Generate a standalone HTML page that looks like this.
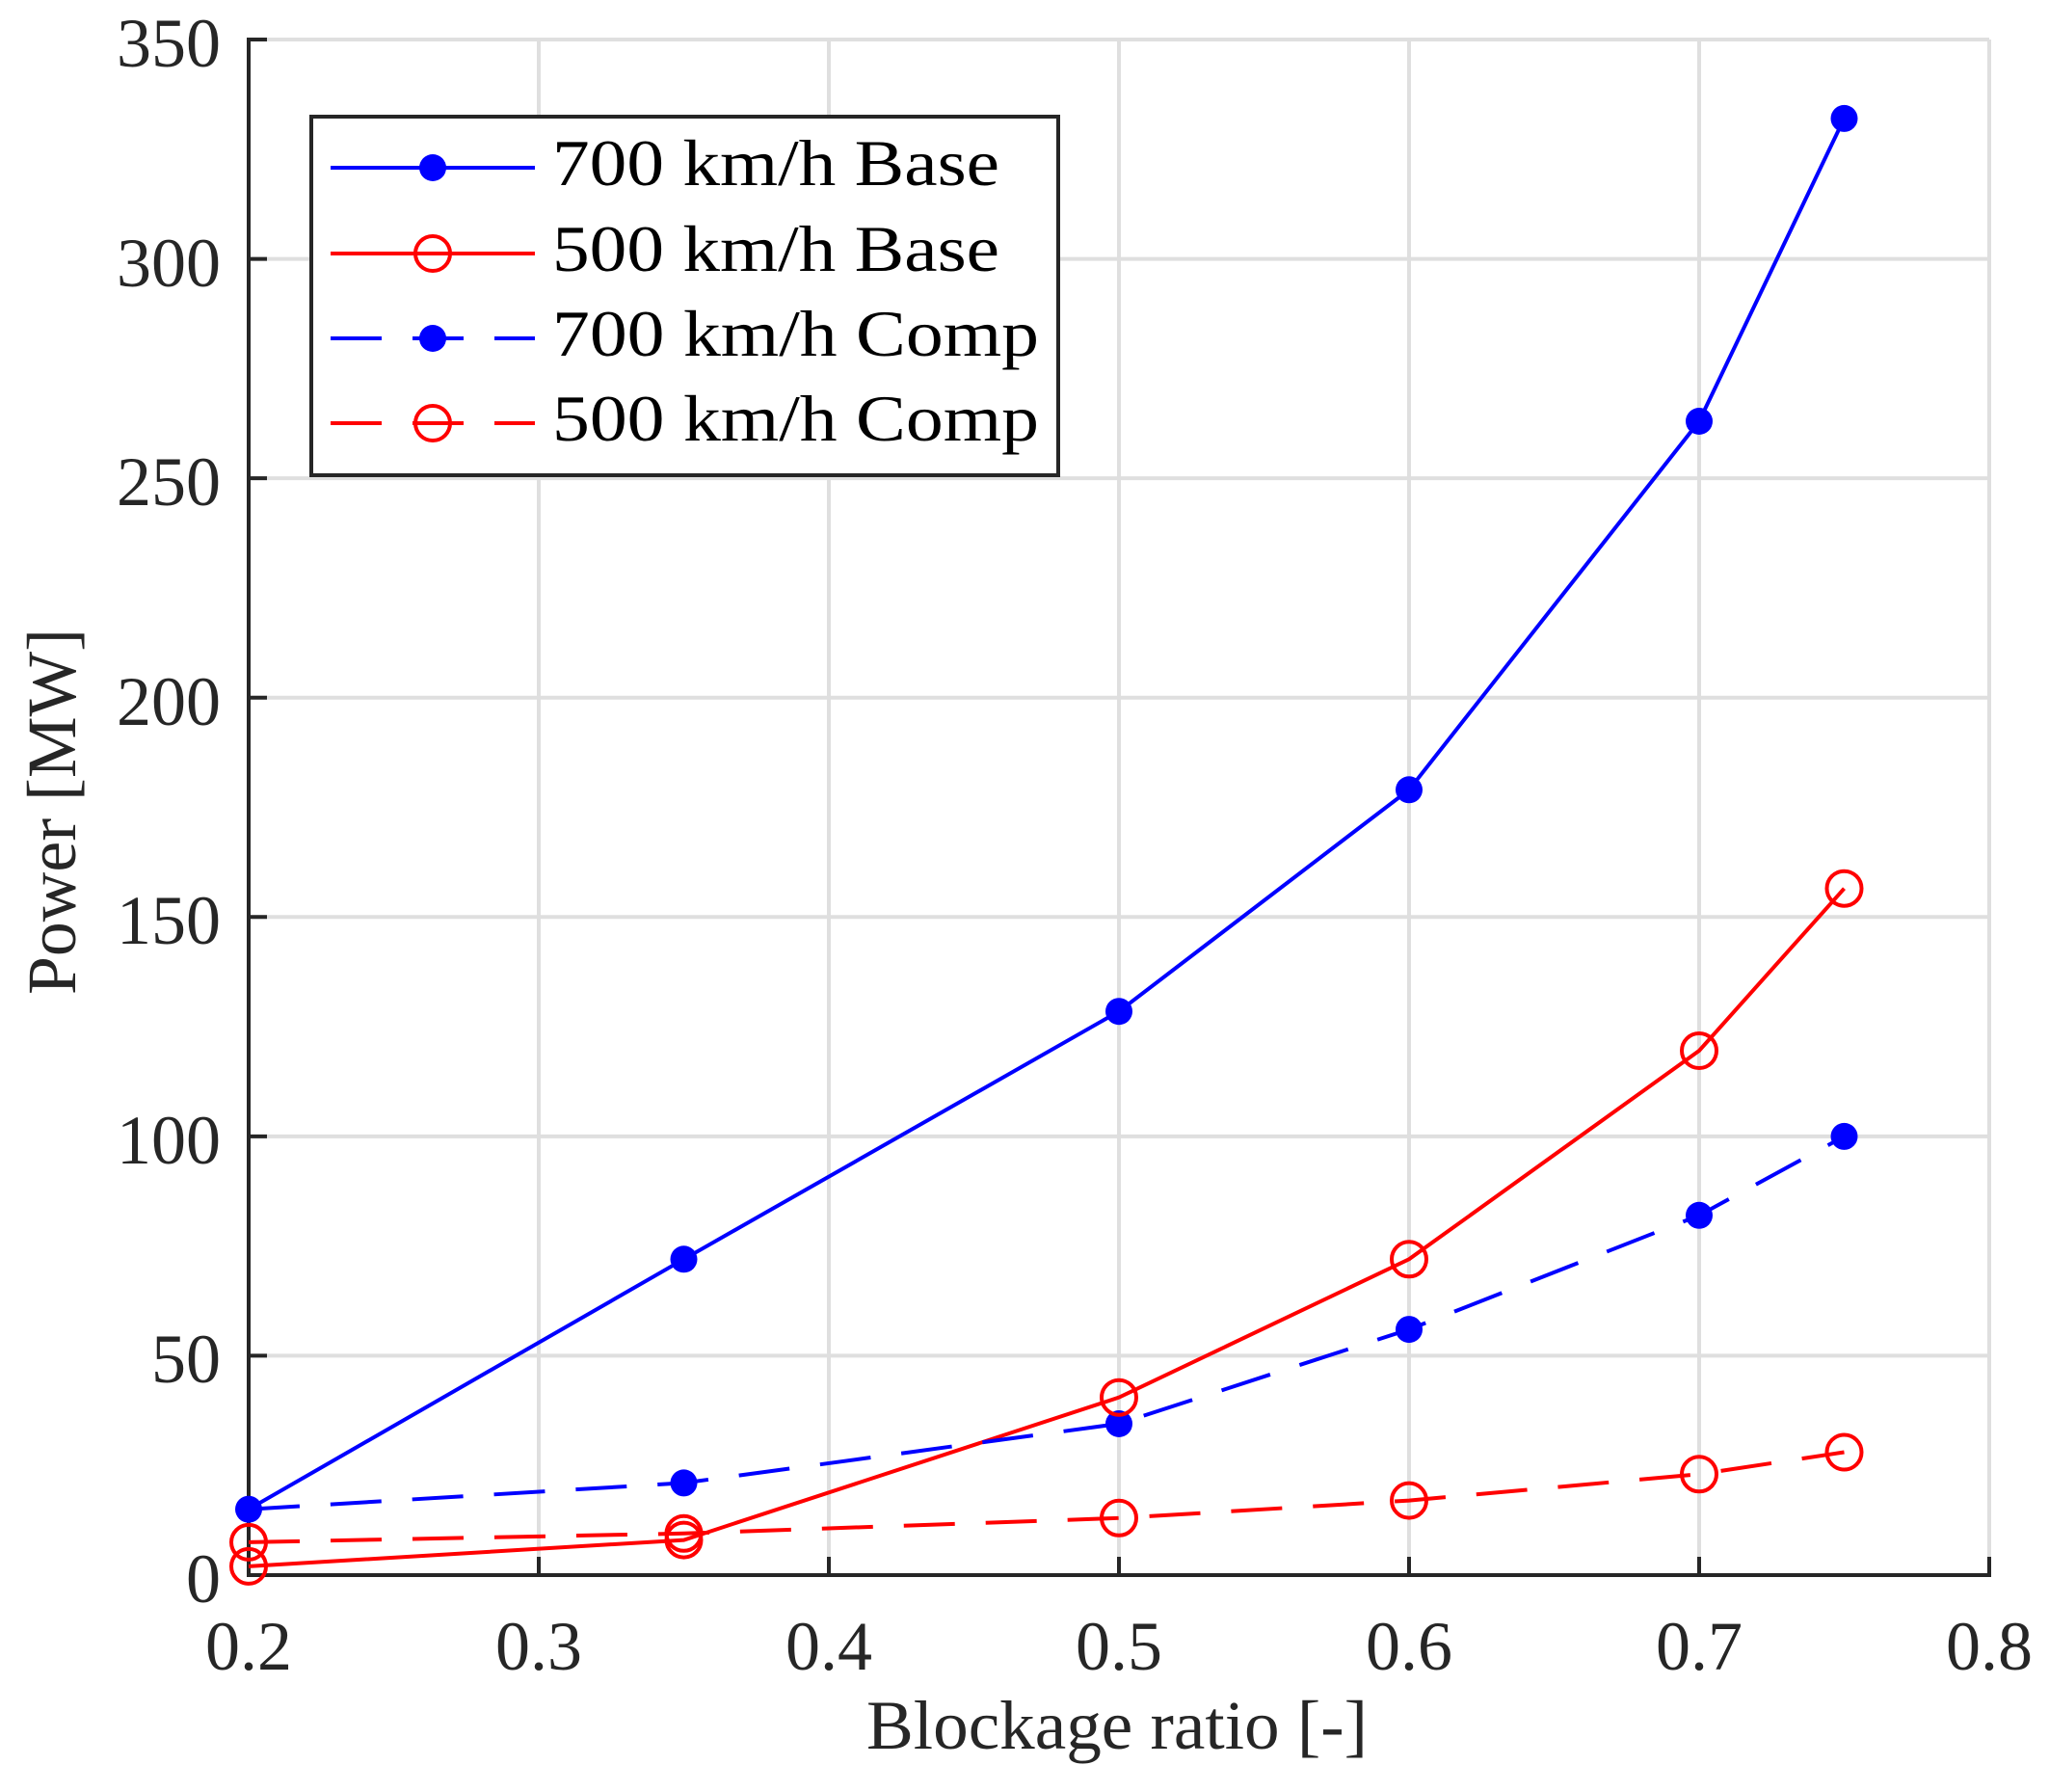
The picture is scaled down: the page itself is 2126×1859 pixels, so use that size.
<!DOCTYPE html>
<html><head><meta charset="utf-8"><style>html,body{margin:0;padding:0;background:#fff}svg{display:block}</style></head>
<body>
<svg width="2126" height="1859" viewBox="0 0 2126 1859" xmlns="http://www.w3.org/2000/svg" font-family="'Liberation Serif', serif" fill="#262626">
<rect width="2126" height="1859" fill="#fff"/>
<g stroke="#dfdfdf" stroke-width="4">
<line x1="559" y1="41" x2="559" y2="1634"/><line x1="860" y1="41" x2="860" y2="1634"/><line x1="1161" y1="41" x2="1161" y2="1634"/><line x1="1462" y1="41" x2="1462" y2="1634"/><line x1="1763" y1="41" x2="1763" y2="1634"/><line x1="2064" y1="41" x2="2064" y2="1634"/>
<line x1="258" y1="41" x2="2064" y2="41"/><line x1="258" y1="268.6" x2="2064" y2="268.6"/><line x1="258" y1="496.1" x2="2064" y2="496.1"/><line x1="258" y1="723.7" x2="2064" y2="723.7"/><line x1="258" y1="951.3" x2="2064" y2="951.3"/><line x1="258" y1="1178.9" x2="2064" y2="1178.9"/><line x1="258" y1="1406.4" x2="2064" y2="1406.4"/>
</g>
<g stroke="#262626" stroke-width="4">
<line x1="258" y1="39" x2="258" y2="1636"/><line x1="256" y1="1634" x2="2066" y2="1634"/>
<line x1="559" y1="1634" x2="559" y2="1615"/><line x1="860" y1="1634" x2="860" y2="1615"/><line x1="1161" y1="1634" x2="1161" y2="1615"/><line x1="1462" y1="1634" x2="1462" y2="1615"/><line x1="1763" y1="1634" x2="1763" y2="1615"/><line x1="2064" y1="1634" x2="2064" y2="1615"/>
<line x1="258" y1="41" x2="277" y2="41"/><line x1="258" y1="268.6" x2="277" y2="268.6"/><line x1="258" y1="496.1" x2="277" y2="496.1"/><line x1="258" y1="723.7" x2="277" y2="723.7"/><line x1="258" y1="951.3" x2="277" y2="951.3"/><line x1="258" y1="1178.9" x2="277" y2="1178.9"/><line x1="258" y1="1406.4" x2="277" y2="1406.4"/>
</g>
<g font-size="72" text-anchor="end">
<text x="229" y="69">350</text><text x="229" y="297">300</text><text x="229" y="524">250</text><text x="229" y="752">200</text><text x="229" y="979">150</text><text x="229" y="1207">100</text><text x="229" y="1434">50</text><text x="229" y="1662">0</text>
</g>
<g font-size="72" text-anchor="middle">
<text x="258" y="1732">0.2</text><text x="559" y="1732">0.3</text><text x="860" y="1732">0.4</text><text x="1161" y="1732">0.5</text><text x="1462" y="1732">0.6</text><text x="1763" y="1732">0.7</text><text x="2064" y="1732">0.8</text>
</g>
<text x="1159" y="1814" font-size="72" text-anchor="middle" textLength="520" lengthAdjust="spacingAndGlyphs">Blockage ratio [-]</text>
<text transform="translate(78,842) rotate(-90)" font-size="72" text-anchor="middle" textLength="380" lengthAdjust="spacingAndGlyphs">Power [MW]</text>
<g fill="none" stroke-width="4">
<polyline stroke="#0000ff" points="258,1565.7 709.5,1306.3 1161,1049.2 1462,819.3 1763,437 1913.5,122.9"/>
<polyline stroke="#ff0000" points="258,1624.9 709.5,1597.6 1161,1449.7 1462,1306.3 1763,1090 1913.5,921.7"/>
<polyline stroke="#0000ff" stroke-dasharray="53,32" points="258,1565.7 709.5,1538.4 1161,1477 1462,1379.1 1763,1260.8 1913.5,1178.9"/>
<polyline stroke="#ff0000" stroke-dasharray="53,32" points="258,1599.9 709.5,1590.8 1161,1574.8 1462,1556.6 1763,1529.3 1913.5,1506.5"/>
</g>
<g fill="#0000ff">
<circle cx="258" cy="1565.7" r="14"/><circle cx="709.5" cy="1306.3" r="14"/><circle cx="1161" cy="1049.2" r="14"/><circle cx="1462" cy="819.3" r="14"/><circle cx="1763" cy="437" r="14"/><circle cx="1913.5" cy="122.9" r="14"/>
<circle cx="709.5" cy="1538.4" r="14"/><circle cx="1161" cy="1477" r="14"/><circle cx="1462" cy="1379.1" r="14"/><circle cx="1763" cy="1260.8" r="14"/><circle cx="1913.5" cy="1178.9" r="14"/>
</g>
<g fill="none" stroke="#ff0000" stroke-width="4">
<circle cx="258" cy="1624.9" r="18"/><circle cx="709.5" cy="1597.6" r="18"/><circle cx="1161" cy="1449.7" r="18"/><circle cx="1462" cy="1306.3" r="18"/><circle cx="1763" cy="1090" r="18"/><circle cx="1913.5" cy="921.7" r="18"/>
<circle cx="258" cy="1599.9" r="18"/><circle cx="709.5" cy="1590.8" r="18"/><circle cx="1161" cy="1574.8" r="18"/><circle cx="1462" cy="1556.6" r="18"/><circle cx="1763" cy="1529.3" r="18"/><circle cx="1913.5" cy="1506.5" r="18"/>
</g>
<rect x="323" y="121" width="775" height="372" fill="#fff" stroke="#262626" stroke-width="4"/>
<g stroke-width="4" fill="none">
<line x1="343" y1="174" x2="555" y2="174" stroke="#0000ff"/>
<line x1="343" y1="263" x2="555" y2="263" stroke="#ff0000"/>
<line x1="343" y1="351" x2="555" y2="351" stroke="#0000ff" stroke-dasharray="53,32"/>
<line x1="343" y1="439" x2="555" y2="439" stroke="#ff0000" stroke-dasharray="53,32"/>
<circle cx="449" cy="263" r="18" stroke="#ff0000"/>
<circle cx="449" cy="439" r="18" stroke="#ff0000"/>
</g>
<circle cx="449" cy="174" r="14" fill="#0000ff"/>
<circle cx="449" cy="351" r="14" fill="#0000ff"/>
<g font-size="68" fill="#000">
<text x="573" y="192" textLength="464" lengthAdjust="spacingAndGlyphs">700 km/h Base</text>
<text x="573" y="281" textLength="464" lengthAdjust="spacingAndGlyphs">500 km/h Base</text>
<text x="573" y="369" textLength="505" lengthAdjust="spacingAndGlyphs">700 km/h Comp</text>
<text x="573" y="457" textLength="505" lengthAdjust="spacingAndGlyphs">500 km/h Comp</text>
</g>
</svg>
</body></html>
